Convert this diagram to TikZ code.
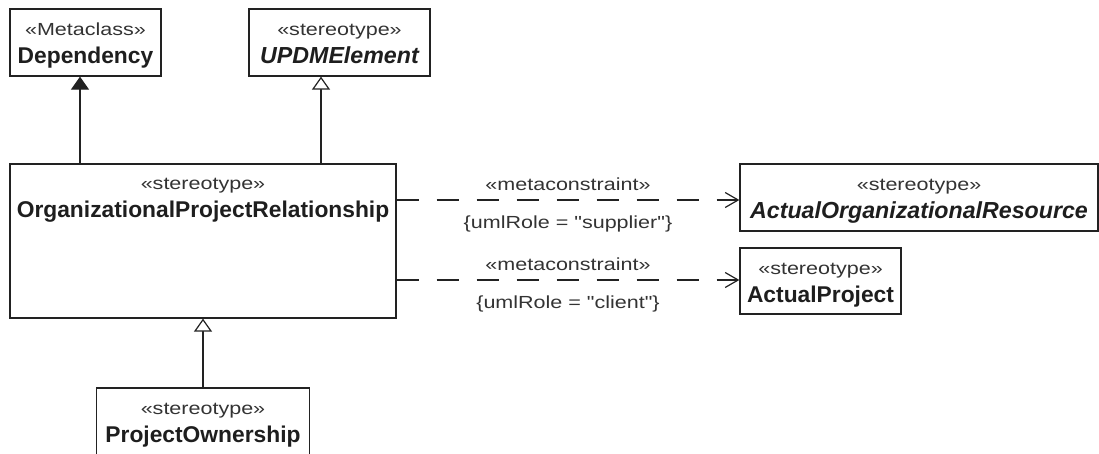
\documentclass[tikz,border=0pt]{standalone}
\usepackage{fontspec}
\setmainfont{Liberation Sans}
\newfontfamily\stfont[FakeStretch=1.23]{Liberation Sans}
\usetikzlibrary{arrows.meta}
\definecolor{ink}{HTML}{222222}
\definecolor{txt}{HTML}{1E1E1E}
\definecolor{sttxt}{HTML}{333333}
\newcommand{\stt}[1]{{\stfont\fontsize{17.5}{28}\selectfont\color{sttxt}#1}}
\newcommand{\stb}[1]{\rule{0pt}{19pt}\stt{#1}}
\newcommand{\nm}[1]{{\fontsize{22.8}{28}\selectfont\bfseries #1}\rule[-5pt]{0pt}{5pt}}
\newcommand{\nmi}[1]{{\fontsize{23.2}{28}\selectfont\bfseries\itshape #1}\rule[-5pt]{0pt}{5pt}}
\begin{document}
\begin{tikzpicture}[x=1pt,y=-1pt,
  box/.style={draw=ink, line width=1.3pt, fill=white, inner sep=0pt, align=center, text=txt, font=\fontsize{17.5}{28}\selectfont},
  txtnode/.style={inner sep=0pt, align=center, text=txt, font=\fontsize{17.5}{28}\selectfont},
  conn/.style={draw=ink, line width=1.2pt},
  ext/.style={conn, -{Triangle[length=13pt,width=18pt,fill=ink]}},
  gen/.style={conn, -{Triangle[open,length=13pt,width=18pt,fill=white]}},
  mcon/.style={conn, dash pattern=on 22pt off 18pt, -{Straight Barb[length=13pt,width=15pt]}},
  lbl/.style={midway, anchor=base, inner sep=0pt, text=txt}]
\useasboundingbox (0,0) rectangle (1099,454);
\fill[white] (0,0) rectangle (1099,454);

\node[box, minimum width=151pt, minimum height=67pt] (dep) at (85.5,42.5) {\stb{«Metaclass»}\\\nm{Dependency}};
\node[box, minimum width=181pt, minimum height=67pt] (upd) at (339.5,42.5) {\stb{«stereotype»}\\\nmi{UPDMElement}};
\node[box, minimum width=386pt, minimum height=154pt] (opr) at (203,241) {};
\node[txtnode, anchor=north] (oprt) at (203,178) {\stt{«stereotype»}\\\nm{OrganizationalProjectRelationship}};
\node[box, minimum width=213pt, minimum height=67pt] (po) at (203,421.5) {\stb{«stereotype»}\\\nm{ProjectOwnership}};
\node[box, minimum width=358pt, minimum height=67pt] (aro) at (919,197.5) {\stb{«stereotype»}\\\nmi{ActualOrganizationalResource}};
\node[box, minimum width=161pt, minimum height=66pt] (ap) at (820.5,281) {\stb{«stereotype»}\\\nm{ActualProject}};

\coordinate (depx) at ([xshift=-5.5pt]dep.south);
\coordinate (updx) at ([xshift=-18.5pt]upd.south);
\draw[ext] (opr.north -| depx) -- (depx);
\draw[gen] (opr.north -| updx) -- (updx);
\draw[gen] (po.north) -- (opr.south -| po.north);

\coordinate (arox) at ([yshift=-2.5pt]aro.west);
\coordinate (apx) at ([yshift=1pt]ap.west);
\draw[mcon] (opr.east |- arox) -- (arox)
  node[lbl, yshift=9.5pt] {\stt{«metaconstraint»}}
  node[lbl, yshift=-28.5pt] {\stt{\{umlRole = "supplier"\}}};
\draw[mcon] (opr.east |- apx) -- (apx)
  node[lbl, yshift=9.5pt] {\stt{«metaconstraint»}}
  node[lbl, yshift=-28.5pt] {\stt{\{umlRole = "client"\}}};
\end{tikzpicture}
\end{document}
